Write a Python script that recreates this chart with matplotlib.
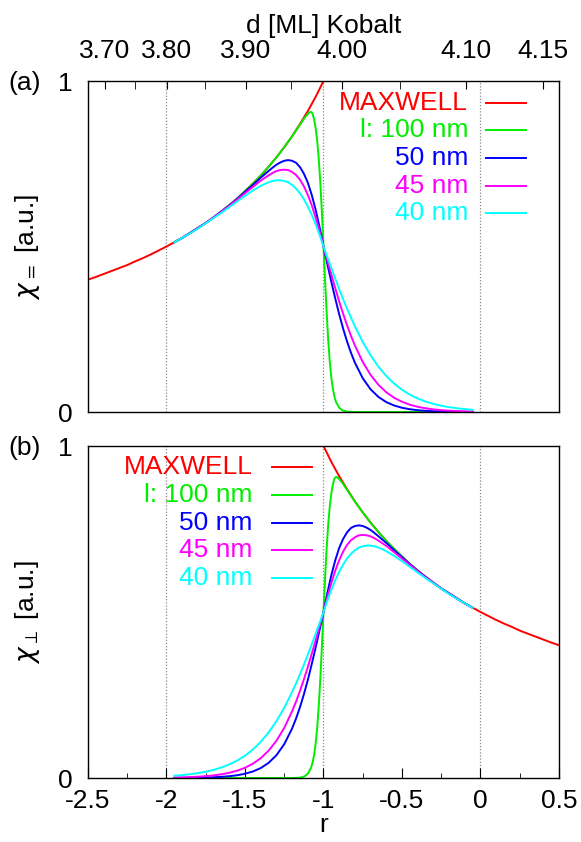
import numpy as np
import matplotlib
matplotlib.use("Agg")
import matplotlib.pyplot as plt

plt.rcParams['font.family'] = ['Liberation Sans', 'DejaVu Sans']
plt.rcParams['mathtext.fontset'] = 'dejavusans'
FS = 19

# Maxwell curve, parallel panel (r from -2.5 to -1)
r_max_par = [-2.50, -2.45, -2.40, -2.35, -2.30, -2.25, -2.20, -2.15, -2.10, -2.05,
             -2.00, -1.95, -1.90, -1.85, -1.80, -1.75, -1.70, -1.65, -1.60, -1.55,
             -1.50, -1.45, -1.40, -1.35, -1.30, -1.25, -1.20, -1.15, -1.10, -1.05, -1.00]
chi_max_par = [0.400, 0.408, 0.417, 0.426, 0.435, 0.444, 0.455, 0.465, 0.476, 0.488,
               0.500, 0.513, 0.526, 0.541, 0.556, 0.571, 0.588, 0.606, 0.625, 0.645,
               0.667, 0.690, 0.714, 0.741, 0.769, 0.800, 0.833, 0.870, 0.909, 0.952, 1.000]

# finite size curves (parallel), common r grid, denser around the peak
r_fs = [-1.95, -1.90, -1.85, -1.80, -1.75, -1.70, -1.65, -1.60, -1.55, -1.50, -1.45,
        -1.400, -1.375, -1.350, -1.325, -1.300, -1.275, -1.250, -1.225, -1.200,
        -1.175, -1.150, -1.125, -1.100, -1.075, -1.050, -1.025, -1.000, -0.975,
        -0.950, -0.925, -0.900, -0.875, -0.850, -0.825, -0.800,
        -0.75, -0.70, -0.65, -0.60, -0.55, -0.50, -0.45, -0.40, -0.35, -0.30,
        -0.25, -0.20, -0.15, -0.10, -0.05]
chi_50 = [0.513, 0.526, 0.541, 0.556, 0.571, 0.588, 0.606, 0.624, 0.644, 0.665, 0.686,
          0.708, 0.718, 0.728, 0.738, 0.747, 0.754, 0.759, 0.761, 0.759,
          0.753, 0.740, 0.720, 0.693, 0.656, 0.611, 0.558, 0.500, 0.446,
          0.393, 0.343, 0.295, 0.252, 0.213, 0.179, 0.149,
          0.102, 0.0685, 0.0455, 0.0299, 0.0196, 0.0128, 0.0083, 0.0054, 0.0035, 0.0023,
          0.0015, 0.0010, 0.0006, 0.0004, 0.0003]
chi_45 = [0.513, 0.526, 0.540, 0.555, 0.571, 0.588, 0.605, 0.623, 0.642, 0.661, 0.680,
          0.699, 0.707, 0.715, 0.722, 0.728, 0.731, 0.732, 0.731, 0.725,
          0.716, 0.702, 0.682, 0.656, 0.625, 0.587, 0.546, 0.500, 0.457,
          0.415, 0.374, 0.334, 0.297, 0.262, 0.230, 0.201,
          0.151, 0.112, 0.0821, 0.0596, 0.0430, 0.0308, 0.0220, 0.0157, 0.0112, 0.0079,
          0.0056, 0.0040, 0.0028, 0.0020, 0.0014]
chi_40 = [0.513, 0.526, 0.540, 0.554, 0.570, 0.586, 0.602, 0.619, 0.636, 0.653, 0.669,
          0.683, 0.689, 0.694, 0.698, 0.700, 0.700, 0.698, 0.694, 0.686,
          0.675, 0.661, 0.643, 0.621, 0.596, 0.567, 0.535, 0.500, 0.467,
          0.435, 0.403, 0.371, 0.341, 0.312, 0.285, 0.259,
          0.2115, 0.171, 0.137, 0.1086, 0.0856, 0.0672, 0.0524, 0.0408, 0.0316, 0.0245,
          0.0189, 0.0146, 0.0113, 0.0087, 0.0067]

# l = 100 nm needs a finer grid around r = -1
r_100 = [-1.95, -1.90, -1.85, -1.80, -1.75, -1.70, -1.65, -1.60, -1.55, -1.50,
         -1.45, -1.40, -1.35, -1.30, -1.25, -1.20, -1.15, -1.12, -1.10, -1.09,
         -1.08, -1.07, -1.06, -1.05, -1.04, -1.03, -1.02, -1.01, -1.00, -0.99,
         -0.98, -0.97, -0.96, -0.95, -0.94, -0.93, -0.92, -0.90, -0.88, -0.85,
         -0.80, -0.70, -0.60, -0.50, -0.40, -0.30, -0.20, -0.10, -0.05]
chi_100 = [0.513, 0.526, 0.541, 0.556, 0.571, 0.588, 0.606, 0.625, 0.645, 0.667,
           0.690, 0.714, 0.741, 0.769, 0.800, 0.833, 0.868, 0.889, 0.900, 0.905,
           0.907, 0.902, 0.885, 0.858, 0.818, 0.764, 0.691, 0.601, 0.500, 0.397,
           0.301, 0.218, 0.152, 0.104, 0.069, 0.046, 0.030, 0.013, 0.005, 0.001,
           0.000, 0.000, 0.000, 0.000, 0.000, 0.000, 0.000, 0.000, 0.000]

# top axis: Co thickness d [ML] at r positions
d_labels = ['3.70', '3.80', '3.90', '4.00', '4.10', '4.15']
d_pos = [-2.392, -1.997, -1.496, -0.884, -0.094, 0.396]
d_minor_pos = [-2.20, -1.755, -1.209, -0.513]

names = ['MAXWELL', 'l: 100 nm', '50 nm', '45 nm', '40 nm']
colors = ['#ff0000', '#00ee00', '#0000ff', '#ff00ff', '#00ffff']

fig = plt.figure(figsize=(5.81, 8.42), dpi=100)
W, H = 581.0, 842.0
ax_a = fig.add_axes([88 / W, 1 - 412 / H, 471 / W, 331 / H])
ax_b = fig.add_axes([88 / W, 1 - 778 / H, 471 / W, 332 / H])


def mirror(r):
    # chi_perp(r) is chi_par seen from the other side of r = -1
    return -2.0 - np.asarray(r)


panel_a = [(r_max_par, chi_max_par), (r_100, chi_100), (r_fs, chi_50),
           (r_fs, chi_45), (r_fs, chi_40)]
panel_b = [(mirror(r), c) for r, c in panel_a]

for ax, curves in ((ax_a, panel_a), (ax_b, panel_b)):
    for x in (-2, -1, 0):
        ax.axvline(x, color='#888888', lw=0.9, ls=(0, (1, 1.5)), zorder=1)
    for (r, c), col in zip(curves, colors):
        ax.plot(r, c, color=col, lw=1.4, zorder=2)
    ax.set_xlim(-2.5, 0.5)
    ax.set_ylim(0, 1)
    ax.set_yticks([0, 1])
    ax.set_yticklabels(['0', '1'], fontsize=FS)
    ax.tick_params(axis='y', length=0, pad=11)
    for s in ax.spines.values():
        s.set_linewidth(1.0)

# panel (a): thickness scale on top
ax_a.set_xticks(d_pos)
ax_a.set_xticklabels(d_labels, fontsize=FS)
ax_a.set_xticks(d_minor_pos, minor=True)
ax_a.tick_params(axis='x', which='both', bottom=False, labelbottom=False,
                 top=True, labeltop=True, direction='in', length=6, pad=13)
ax_a.xaxis.set_label_position('top')
ax_a.set_xlabel('d [ML] Kobalt', fontsize=FS, labelpad=4)
ax_a.set_ylabel(r'$\chi_{=}$ [a.u.]', fontsize=FS)
ax_a.yaxis.set_label_coords(-0.098, 0.5)

# panel (b): r scale at the bottom
ax_b.set_xticks([-2.5, -2.0, -1.5, -1.0, -0.5, 0.0, 0.5])
ax_b.set_xticklabels(['-2.5', '-2', '-1.5', '-1', '-0.5', '0', '0.5'], fontsize=FS)
ax_b.set_xticks([-2.25, -1.75, -1.25, -0.75, -0.25, 0.25], minor=True)
ax_b.tick_params(axis='x', which='major', direction='in', length=7, pad=8)
ax_b.tick_params(axis='x', which='minor', direction='in', length=3.5)
ax_b.set_xlabel('r', fontsize=FS, labelpad=0)
ax_b.set_ylabel(r'$\chi_{\perp}$ [a.u.]', fontsize=FS)
ax_b.yaxis.set_label_coords(-0.098, 0.5)

# key: text right aligned, line sample to the right
for ax, xt, x0, x1, ytop in ((ax_a, 0.807, 0.845, 0.930, 0.934),
                             (ax_b, 0.350, 0.390, 0.475, 0.936)):
    for i, (name, col) in enumerate(zip(names, colors)):
        y = ytop - i * 0.0835
        ax.text(xt, y, name, color=col, fontsize=FS, ha='right', va='center',
                transform=ax.transAxes)
        ax.plot([x0, x1], [y, y], color=col, lw=1.4, transform=ax.transAxes)

fig.text(8 / W, 1 - 83 / H, '(a)', fontsize=FS, va='center')
fig.text(8 / W, 1 - 448 / H, '(b)', fontsize=FS, va='center')

fig.savefig('out.png', dpi=100)
